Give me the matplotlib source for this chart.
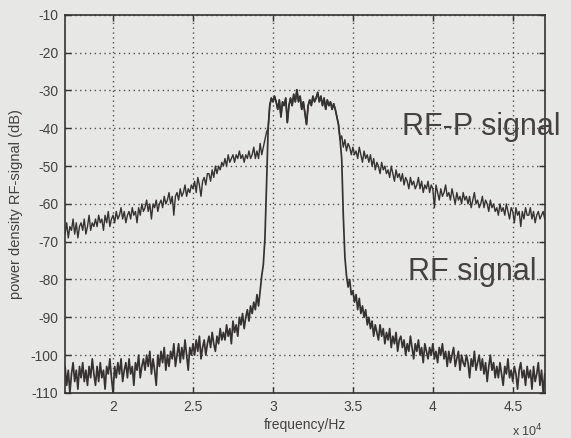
import numpy as np
import matplotlib
matplotlib.use("Agg")
import matplotlib.pyplot as plt
from matplotlib.ticker import FuncFormatter

# Frequency bins (Hz), 100 Hz spacing from 17 kHz to 47 kHz
f_start, f_stop, f_step = 17000, 47000, 100

# Modulated RF signal, lower skirt: 1.70e4 .. 2.96e4 Hz (dB)
rf_lower = [
    -103, -108, -104, -110, -105, -102, -107, -104, -109, -103,
    -106, -102, -107, -104, -108, -103, -106, -101, -105, -108,
    -103, -107, -102, -106, -104, -109, -103, -105, -101, -106,
    -110, -103, -106, -102, -105, -101, -107, -104, -102, -106,
    -101, -105, -103, -108, -102, -104, -100, -106, -103, -101,
    -104, -100, -103, -99, -105, -101, -104, -108, -100, -103,
    -99, -102, -98, -104, -100, -103, -99, -101, -97, -103,
    -100, -97, -102, -98, -101, -96, -100, -104, -98, -100,
    -97, -100, -96, -99, -95, -101, -98, -96, -100, -97,
    -95, -98, -94, -97, -99, -95, -97, -93, -96, -94,
    -96, -92, -95, -93, -97, -91, -94, -92, -95, -90,
    -92, -89, -93, -90, -88, -91, -87, -89, -86, -88,
    -84, -87, -83, -79, -76, -69, -55,
]

# Pass band shared by both spectra: 2.97e4 .. 3.42e4 Hz (dB)
band = [
    -40, -34, -32, -33, -31.5, -33, -35, -32.5, -37, -33,
    -34, -32, -38.5, -34, -32, -34, -31, -33, -29.8, -33,
    -31.5, -35, -33, -36, -39, -34, -32.5, -34, -31.5, -33,
    -32, -30.5, -33, -31.5, -34, -32, -35, -32.5, -34, -33,
    -35, -33.5, -35, -37, -39, -43,
]

# Modulated RF signal, upper skirt: 3.43e4 .. 4.70e4 Hz (dB)
rf_upper = [
    -48, -63, -74, -79, -82, -80, -84,
    -83, -86, -84, -88, -85, -89, -87, -90, -88, -92,
    -90, -93, -91, -95, -92, -94, -96, -92, -95, -93,
    -97, -94, -96, -93, -98, -95, -97, -94, -99, -96,
    -95, -98, -96, -100, -97, -99, -95, -98, -101, -97,
    -99, -96, -100, -98, -102, -97, -99, -101, -98, -100,
    -97, -101, -99, -102, -98, -100, -97, -101, -99, -103,
    -99, -102, -100, -98, -103, -101, -99, -104, -100, -102,
    -103, -100, -102, -106, -101, -103, -99, -104, -102, -100,
    -104, -101, -105, -102, -107, -103, -100, -104, -102, -106,
    -103, -106, -102, -105, -108, -103, -105, -101, -106, -104,
    -107, -103, -105, -109, -104, -102, -106, -104, -108, -103,
    -106, -104, -109, -103, -107, -105, -102, -108, -104, -110, -105,
]

# Pre-distorted (RF-P) signal, lower shoulder: 1.70e4 .. 2.96e4 Hz (dB)
rfp_lower = [
    -68, -65, -69, -66, -67, -64, -68, -65, -69, -66,
    -65, -67, -64, -68, -66, -63, -67, -65, -66, -64,
    -66, -63, -65, -64, -67, -63, -65, -62, -66, -64,
    -63, -65, -62, -64, -63, -61, -64, -62, -65, -63,
    -62, -64, -61, -63, -62, -65, -61, -63, -60, -62,
    -61, -59, -62, -60, -64, -60, -61, -59, -62, -60,
    -59, -61, -58, -60, -59, -57, -60, -58, -63, -58,
    -57, -59, -56, -58, -57, -55, -58, -56, -57, -55,
    -56, -54, -57, -53, -55, -58, -54, -53, -55, -52,
    -52, -54, -51, -53, -50, -52, -50, -51, -49, -50,
    -48, -50, -47, -49, -48, -47, -49, -47, -48, -46,
    -48, -47, -49, -47, -48, -46, -48, -47, -45, -48,
    -46, -48, -44, -47, -45, -43, -41,
]

# Pre-distorted (RF-P) signal, upper shoulder: 3.43e4 .. 4.70e4 Hz (dB)
rfp_upper = [
    -42, -45, -43, -46, -44, -45, -47,
    -45, -47, -46, -48, -45, -47, -49, -46, -48, -47,
    -49, -47, -50, -48, -51, -49, -50, -52, -49, -51,
    -50, -52, -51, -53, -50, -52, -54, -51, -53, -52,
    -54, -52, -55, -53, -54, -56, -53, -55, -54, -56,
    -55, -53, -56, -54, -57, -55, -56, -54, -57, -55,
    -56, -61, -55, -57, -59, -56, -58, -57, -55, -58,
    -57, -59, -56, -58, -60, -57, -59, -58, -60, -57,
    -59, -58, -60, -58, -61, -59, -57, -60, -59, -61,
    -60, -58, -61, -59, -60, -62, -59, -61, -60, -62,
    -61, -63, -60, -62, -61, -63, -60, -62, -64, -61,
    -62, -65, -61, -63, -62, -66, -62, -64, -61, -63,
    -63, -61, -64, -62, -65, -63, -62, -64, -63, -62, -64,
]

x_ticks = [20000, 25000, 30000, 35000, 40000, 45000]
y_ticks = [-110, -100, -90, -80, -70, -60, -50, -40, -30, -20, -10]

freq = np.arange(f_start, f_stop + f_step, f_step)
rf = np.array(rf_lower + band + rf_upper, dtype=float)
rfp = np.array(rfp_lower + band + rfp_upper, dtype=float)

paper = "#e7e7e6"
ink = "#363232"
txt = "#454141"

plt.rcParams["font.family"] = ["Liberation Sans", "DejaVu Sans"]
plt.rcParams["axes.unicode_minus"] = False

fig = plt.figure(figsize=(5.71, 4.38), dpi=100, facecolor=paper)
ax = fig.add_axes([0.114, 0.103, 0.840, 0.863], facecolor=paper)

ax.plot(freq, rfp, color=ink, lw=1.0, zorder=3)
ax.plot(freq, rf, color=ink, lw=1.25, zorder=3)

ax.set_xlim(f_start, f_stop)
ax.set_ylim(-110, -10)
ax.set_xticks(x_ticks)
ax.set_yticks(y_ticks)
ax.xaxis.set_major_formatter(FuncFormatter(lambda v, p: f"{v / 1e4:g}"))
ax.grid(True, color="#555151", linestyle=(0, (1, 2.5)), linewidth=1.0)

for s in ax.spines.values():
    s.set_color(ink)
    s.set_linewidth(1.2)
ax.tick_params(direction="in", length=4, width=1, colors=ink,
               labelcolor=txt, labelsize=10, pad=5,
               top=True, right=True)

ax.set_xlabel("frequency/Hz", fontsize=10, color=txt, labelpad=3)
ax.set_ylabel("power density RF-signal (dB)", fontsize=10.5, color=txt,
              labelpad=5)
fig.text(0.897, 0.005, r"x 10$^4$", fontsize=9, color=txt)

ax.text(38100, -41.7, "RF-P signal", fontsize=22, color=txt,
        clip_on=False, zorder=4)
ax.text(38440, -80.1, "RF signal", fontsize=22, color=txt,
        clip_on=False, zorder=4)

fig.savefig("out.png", dpi=100, facecolor=paper)
